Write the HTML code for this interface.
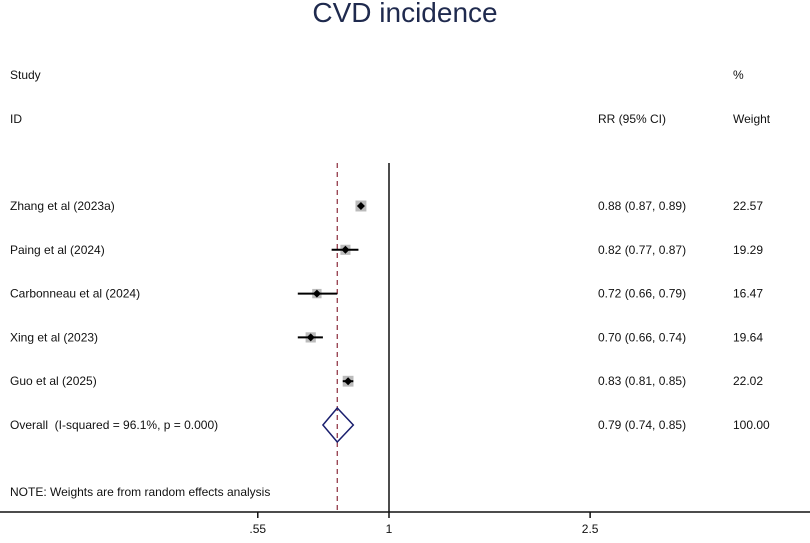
<!DOCTYPE html>
<html><head><meta charset="utf-8"><style>
body{margin:0;background:#fff;}
svg text{font-family:"Liberation Sans",Arial,sans-serif;fill:#111;font-size:12px;}
</style></head><body>
<svg width="810" height="538" viewBox="0 0 810 538">
<text x="405" y="22" text-anchor="middle" style="font-size:28px;fill:#1f2a4e">CVD incidence</text>
<text x="10" y="79">Study</text>
<text x="10" y="123">ID</text>
<text x="598" y="123">RR (95% CI)</text>
<text x="733" y="79">%</text>
<text x="733" y="123">Weight</text>
<text x="10" y="496">NOTE: Weights are from random effects analysis</text>
<g id="plot"></g>
</svg>
<script>
const studies=["Zhang et al (2023a)","Paing et al (2024)","Carbonneau et al (2024)","Xing et al (2023)","Guo et al (2025)"];
const rr=[0.88,0.82,0.72,0.70,0.83];
const lo=[0.87,0.77,0.66,0.66,0.81];
const hi=[0.89,0.87,0.79,0.74,0.85];
const weights=[22.57,19.29,16.47,19.64,22.02];
const overall=[0.79,0.74,0.85];
const tickVals=[0.55,1,2.5];
const tickLabels=[".55","1","2.5"];
const NS="http://www.w3.org/2000/svg";
const g=document.getElementById('plot');
const X=v=>389+219.5*Math.log(v);
const rowY=i=>206+i*43.8;
function mk(t,a,p){const e=document.createElementNS(NS,t);for(const k in a)e.setAttribute(k,a[k]);(p||g).appendChild(e);return e;}
let ax=mk('line',{x1:0,x2:810,y1:512,y2:512,stroke:'#111','stroke-width':1.5});


let ref=mk('line',{x1:X(1),x2:X(1),y1:163,y2:512,stroke:'#111','stroke-width':1.5});


let dl=mk('line',{x1:X(overall[0]),x2:X(overall[0]),y1:163,y2:512,stroke:'#8b2a3a','stroke-width':1.2,'stroke-dasharray':'5,4'});


tickVals.forEach((v,i)=>{
 let t=mk('line',{x1:X(v),x2:X(v),y1:512,y2:518,stroke:'#111','stroke-width':1.5});
 
 
 let l=mk('text',{x:X(v),y:533,'text-anchor':'middle'});l.textContent=tickLabels[i];
 
 
});
studies.forEach((s,i)=>{
 const y=rowY(i);
 let n=mk('text',{x:10,y:y+4});n.textContent=s;
 
 
 const sz=Math.sqrt(weights[i])*2.3;
 let b=mk('rect',{x:X(rr[i])-sz/2,y:y-sz/2,width:sz,height:sz,fill:'#bbb'});
 
 
 let ci=mk('line',{x1:X(lo[i]),x2:X(hi[i]),y1:y,y2:y,stroke:'#000','stroke-width':2});
 
 
 const cx=X(rr[i]);
 let d=mk('polygon',{points:`${cx},${y-4} ${cx+4},${y} ${cx},${y+4} ${cx-4},${y}`,fill:'#000'});
 
 
 let r=mk('text',{x:598,y:y+4});r.textContent=`${rr[i].toFixed(2)} (${lo[i].toFixed(2)}, ${hi[i].toFixed(2)})`;
 
 
 let w=mk('text',{x:733,y:y+4});w.textContent=weights[i].toFixed(2);
 
 
});
const oy=rowY(5);
let on=mk('text',{x:10,y:oy+4});on.textContent="Overall\u00a0 (I-squared = 96.1%, p = 0.000)";


let od=mk('polygon',{points:`${X(overall[1])},${oy} ${X(overall[0])},${oy-17} ${X(overall[2])},${oy} ${X(overall[0])},${oy+17}`,fill:'none',stroke:'#1a1f6e','stroke-width':1.5});


let orr=mk('text',{x:598,y:oy+4});orr.textContent=`${overall[0].toFixed(2)} (${overall[1].toFixed(2)}, ${overall[2].toFixed(2)})`;


let ow=mk('text',{x:733,y:oy+4});ow.textContent="100.00";


</script>
</body></html>
